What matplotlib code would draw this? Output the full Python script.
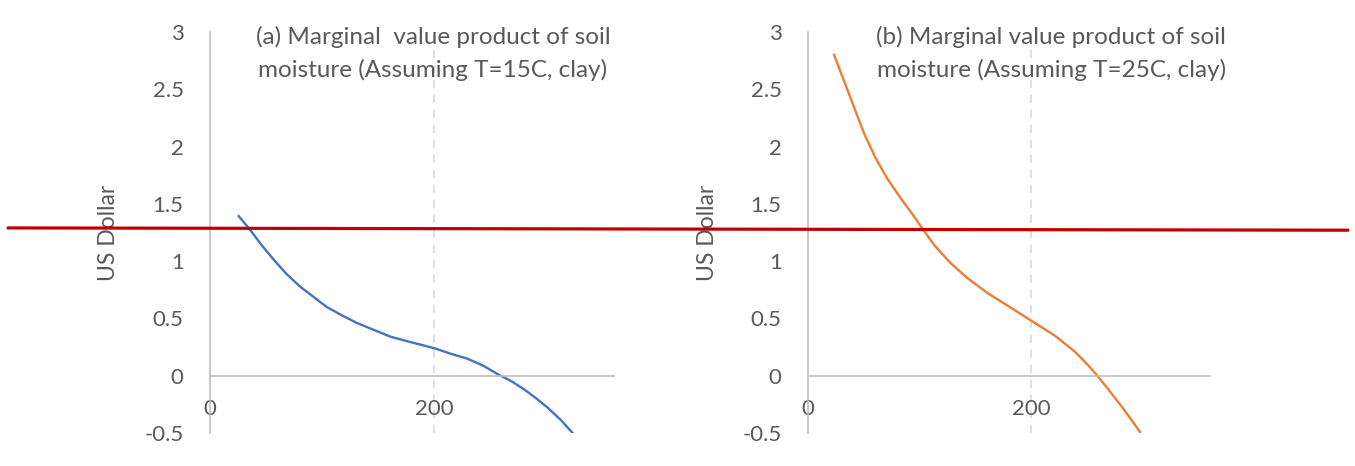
import numpy as np
import matplotlib
matplotlib.use("Agg")
import matplotlib.pyplot as plt
from matplotlib.patches import ConnectionPatch
from matplotlib.transforms import blended_transform_factory

#==============================================================
# DATA
#==============================================================
x_a = [25, 36, 46, 57, 68, 80, 92, 104, 117, 131, 146, 161, 180, 200,
       215, 229, 243, 257, 269, 280, 291, 301, 313, 324]
y_a = [1.40, 1.27, 1.14, 1.01, 0.89, 0.78, 0.69, 0.60, 0.53, 0.46, 0.40,
       0.34, 0.29, 0.24, 0.19, 0.15, 0.09, 0.01, -0.05, -0.12, -0.20,
       -0.28, -0.39, -0.51]

x_b = [23, 32, 41, 50, 60, 71, 83, 95, 102, 113, 128, 143, 161, 179,
       200, 221, 239, 251, 260, 269, 281, 290, 298]
y_b = [2.81, 2.58, 2.35, 2.12, 1.91, 1.72, 1.55, 1.39, 1.29, 1.14, 0.98,
       0.85, 0.72, 0.61, 0.48, 0.35, 0.21, 0.09, -0.01, -0.12, -0.27,
       -0.39, -0.50]

titles = [["(a) Marginal  value product of soil", "moisture (Assuming T=15C, clay)"],
          ["(b) Marginal value product of soil", "moisture (Assuming T=25C, clay)"]]
ylab = "US Dollar"
yticks = [-0.5, 0, 0.5, 1, 1.5, 2, 2.5, 3]
ytick_labels = ["-0.5", "0", "0.5", "1", "1.5", "2", "2.5", "3"]
xticks = [0, 200]
red_y = [1.29, 1.27]   # red reference line, left / right end (data units)

#==============================================================
# STYLE
#==============================================================
plt.rcParams['font.family'] = ['Lato', 'DejaVu Sans']
TXT = '#595959'
AXC = '#BFBFBF'
GRID = '#D9D9D9'
colors = ['#4472C4', '#ED7D31']

fig = plt.figure(figsize=(13.55, 4.66), dpi=100)
ax1 = fig.add_axes([210/1355, 1-433/466, 404/1355, 401/466])
ax2 = fig.add_axes([808/1355, 1-433/466, 402/1355, 401/466])

title_x = [0.552, 0.605]
for k, (ax, xs, ys) in enumerate([(ax1, x_a, y_a), (ax2, x_b, y_b)]):
    ax.plot(xs, ys, '-', color=colors[k], lw=1.7, solid_capstyle='butt')
    ax.set_xlim(0, 360)
    ax.set_ylim(-0.5, 3)
    for s in ['top', 'right']:
        ax.spines[s].set_visible(False)
    ax.spines['bottom'].set_position(('data', 0))
    for s in ['bottom', 'left']:
        ax.spines[s].set_color(AXC)
        ax.spines[s].set_linewidth(1.2)
    ax.set_yticks(yticks)
    ax.set_yticklabels(ytick_labels)
    ax.set_xticks(xticks)
    ax.tick_params(axis='y', length=0, pad=19, labelsize=16, labelcolor=TXT)
    ax.tick_params(axis='x', length=0, pad=17, labelsize=16, labelcolor=TXT)
    ax.axvline(200, color=GRID, lw=1.2, ls=(0, (5, 4)), zorder=0)
    ax.set_ylabel(ylab, fontsize=16.5, color=TXT)
    ax.yaxis.set_label_coords(-0.225, 0.5)
    ax.text(title_x[k], 1-(37-32)/401, titles[k][0], transform=ax.transAxes,
            ha='center', va='center', fontsize=17.5, color=TXT, clip_on=False)
    ax.text(title_x[k], 1-(70-32)/401, titles[k][1], transform=ax.transAxes,
            ha='center', va='center', fontsize=17.5, color=TXT, clip_on=False)

# red line across both panels
tA = blended_transform_factory(fig.transFigure, ax1.transData)
tB = blended_transform_factory(fig.transFigure, ax2.transData)
con = ConnectionPatch(xyA=(8/1355, red_y[0]), coordsA=tA,
                      xyB=(1348/1355, red_y[1]), coordsB=tB,
                      color='#C00000', lw=2.3, zorder=10)
fig.add_artist(con)

fig.savefig('out.png', dpi=100)
